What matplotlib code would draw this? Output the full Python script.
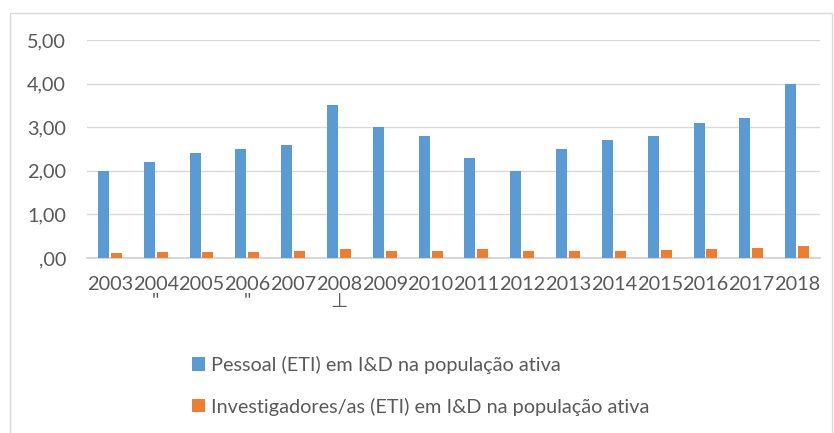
import matplotlib.pyplot as plt
import numpy as np
from matplotlib.patches import Rectangle

# Data
years = ["2003", "2004\n\"", "2005", "2006\n\"", "2007", "2008\n\u22a5", "2009", "2010",
         "2011", "2012", "2013", "2014", "2015", "2016", "2017", "2018"]
pessoal = [2.0, 2.2, 2.4, 2.5, 2.6, 3.5, 3.0, 2.8, 2.3, 2.0, 2.5, 2.7, 2.8, 3.1, 3.2, 4.0]
investigadores = [0.12, 0.13, 0.13, 0.14, 0.15, 0.21, 0.15, 0.15, 0.20, 0.16, 0.16, 0.16,
                  0.18, 0.21, 0.24, 0.28]
yticks = [0, 1, 2, 3, 4, 5]
ytick_labels = [",00", "1,00", "2,00", "3,00", "4,00", "5,00"]
labels = ["Pessoal (ETI) em I&D na população ativa",
          "Investigadores/as (ETI) em I&D na população ativa"]

blue = "#5B9BD5"
orange = "#ED7D31"
text_col = "#595959"

plt.rcParams["font.family"] = ["Lato", "DejaVu Sans"]

fig = plt.figure(figsize=(8.34, 4.33), dpi=100)
W, H = 834, 433
ax = fig.add_axes([87 / W, 1 - 258 / H, (820 - 87) / W, (258 - 40) / H])

x = np.arange(len(years))
w = 0.24
b1 = ax.bar(x - 0.14, pessoal, w, color=blue, zorder=3)
b2 = ax.bar(x + 0.14, investigadores, w, color=orange, zorder=3)

ax.set_xlim(-0.5, len(years) - 0.5)
ax.set_ylim(0, 5)
ax.set_yticks(yticks)
ax.set_yticklabels(ytick_labels)
ax.set_xticks(x)
ax.set_xticklabels(years, linespacing=1.0)
ax.tick_params(axis="both", length=0, labelsize=14.3, colors=text_col)
ax.tick_params(axis="x", pad=13)
ax.tick_params(axis="y", pad=15)

ax.grid(axis="y", color="#D9D9D9", linewidth=1, zorder=0)
for s in ["top", "right", "left"]:
    ax.spines[s].set_visible(False)
ax.spines["bottom"].set_color("#D0D0D0")
ax.spines["bottom"].set_linewidth(1.2)

fig.legend([b1, b2], labels, loc="upper left", bbox_to_anchor=(174 / W, 1 - 338 / H),
           frameon=False, fontsize=14.3, labelcolor=text_col, handlelength=0.65,
           handleheight=0.65, handletextpad=0.3, labelspacing=1.2)

fig.patches.append(Rectangle((10 / W, -0.01), (832 - 10) / W, 1.01 - 13 / H,
                             transform=fig.transFigure, fill=False,
                             edgecolor="#D9D9D9", linewidth=1))

fig.savefig("out.png", dpi=100)
